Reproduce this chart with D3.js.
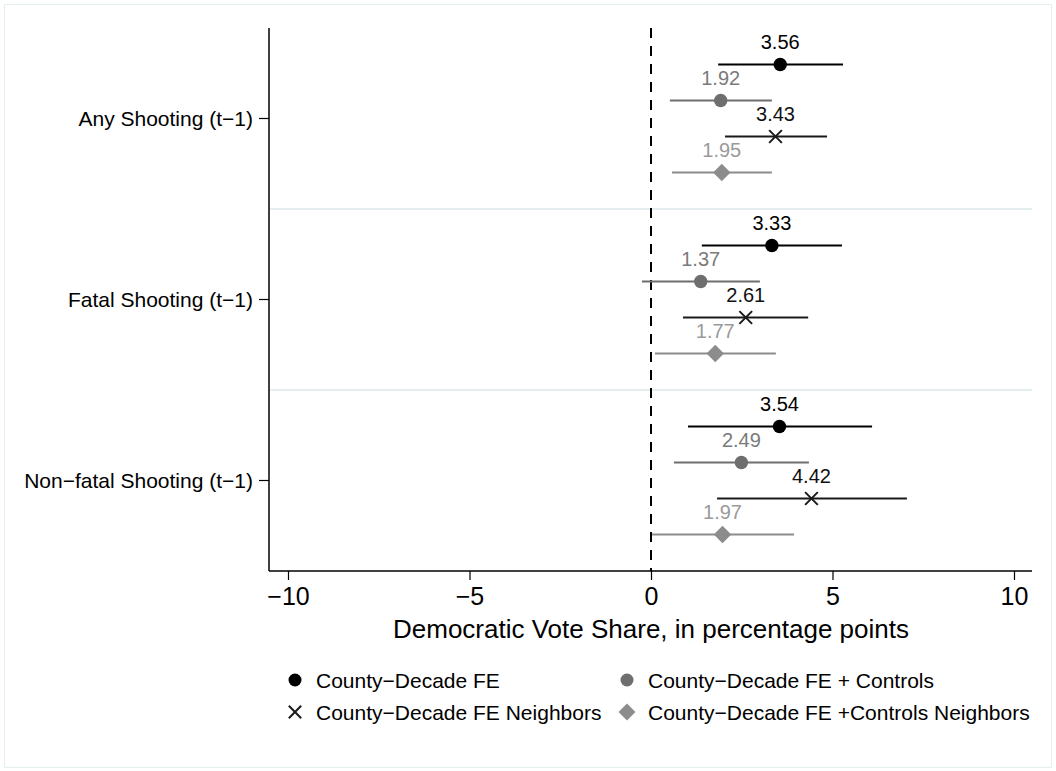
<!DOCTYPE html>
<html><head><meta charset="utf-8">
<script src="https://cdn.jsdelivr.net/npm/d3@7"></script>
<style>body{margin:0;background:#fff;}svg{display:block;font-family:"Liberation Sans",Arial,sans-serif;}</style>
</head><body>
<svg id="c" width="1056" height="771"></svg>
<script>
const groups = ["Any Shooting (t\u22121)", "Fatal Shooting (t\u22121)", "Non\u2212fatal Shooting (t\u22121)"];
const seriesNames = ["County\u2212Decade FE", "County\u2212Decade FE + Controls", "County\u2212Decade FE Neighbors", "County\u2212Decade FE +Controls Neighbors"];
const estFE = [3.56, 3.33, 3.54];
const loFE = [1.85, 1.40, 1.02];
const hiFE = [5.29, 5.26, 6.09];
const estCtrl = [1.92, 1.37, 2.49];
const loCtrl = [0.52, -0.25, 0.63];
const hiCtrl = [3.33, 3.00, 4.35];
const estNb = [3.43, 2.61, 4.42];
const loNb = [2.04, 0.88, 1.82];
const hiNb = [4.85, 4.33, 7.05];
const estCtrlNb = [1.95, 1.77, 1.97];
const loCtrlNb = [0.58, 0.11, 0.03];
const hiCtrlNb = [3.33, 3.44, 3.94];
const xTicks = [-10, -5, 0, 5, 10];

const est = [estFE, estCtrl, estNb, estCtrlNb];
const lo = [loFE, loCtrl, loNb, loCtrlNb];
const hi = [hiFE, hiCtrl, hiNb, hiCtrlNb];
const markers = ["circle", "circle", "x", "diamond"];
const lineColors = ["#000000", "#6e6e6e", "#1a1a1a", "#8c8c8c"];
const markColors = ["#000000", "#6e6e6e", "#1a1a1a", "#8c8c8c"];
const labelColors = ["#000000", "#7a7a7a", "#111111", "#9a9a9a"];

const svg = d3.select("#c");
svg.append("rect").attr("x",4.5).attr("y",4.5).attr("width",1047).attr("height",763)
  .attr("fill","#fff").attr("stroke","#e4eeee").attr("stroke-width",1);

const L = 269, R = 1032, T = 28, B = 571;
const x = d3.scaleLinear().domain([-10, 10]).range([288, 1014]);
const yG = d3.scaleBand().domain(d3.range(groups.length)).range([T, B]);
const yS = d3.scalePoint().domain(d3.range(4)).range([-54, 54]);
const gc = i => yG(i) + yG.bandwidth()/2;

for (let i = 1; i < groups.length; i++) {
  svg.append("line").attr("x1", L).attr("x2", R).attr("y1", yG(i)).attr("y2", yG(i))
    .attr("stroke", "#e4eeee").attr("stroke-width", 2);
}

svg.append("line").attr("x1", x(0)).attr("x2", x(0)).attr("y1", T).attr("y2", B)
  .attr("stroke", "#000").attr("stroke-width", 2).attr("stroke-dasharray", "10,8");

const xAxis = d3.axisBottom(x).tickValues(xTicks).tickSize(9).tickPadding(4)
  .tickFormat(d => d < 0 ? "\u2212" + Math.abs(d) : d);
const gx = svg.append("g").attr("transform", `translate(0,${B})`).call(xAxis);
gx.select(".domain").attr("d", `M${L},0H${R}`).attr("stroke", "#000").attr("stroke-width", 1.5);
gx.selectAll(".tick line").attr("stroke", "#000").attr("stroke-width", 1.2);
gx.selectAll(".tick text").attr("font-size", 25).attr("fill", "#000")
  .attr("font-family", "Liberation Sans, Arial, sans-serif").attr("y", 34).attr("dy", 0);

svg.append("line").attr("x1", L).attr("x2", L).attr("y1", T).attr("y2", B)
  .attr("stroke", "#000").attr("stroke-width", 1.5);
groups.forEach((g, i) => {
  svg.append("line").attr("x1", L - 10).attr("x2", L).attr("y1", gc(i)).attr("y2", gc(i))
    .attr("stroke", "#000").attr("stroke-width", 1.2);
  svg.append("text").attr("x", L - 16).attr("y", gc(i)).attr("dy", "0.36em")
    .attr("text-anchor", "end").attr("font-size", 21).attr("fill", "#000").text(g);
});

svg.append("text").attr("x", x(0)).attr("y", 638).attr("text-anchor", "middle")
  .attr("font-size", 26).attr("fill", "#000").text("Democratic Vote Share, in percentage points");

function drawMarker(sel, type, cx, cy, color, size) {
  if (type === "circle") {
    sel.append("circle").attr("cx", cx).attr("cy", cy).attr("r", size).attr("fill", color);
  } else if (type === "diamond") {
    const s = size * 1.3;
    sel.append("path").attr("d", `M${cx},${cy - s}L${cx + s},${cy}L${cx},${cy + s}L${cx - s},${cy}Z`).attr("fill", color);
  } else {
    const s = size * 0.95;
    sel.append("path").attr("d", `M${cx - s},${cy - s}L${cx + s},${cy + s}M${cx - s},${cy + s}L${cx + s},${cy - s}`)
      .attr("stroke", color).attr("stroke-width", 2).attr("fill", "none");
  }
}

const plot = svg.append("g");
for (let s = 0; s < 4; s++) {
  for (let i = 0; i < groups.length; i++) {
    const cy = gc(i) + yS(s);
    plot.append("line").attr("x1", x(lo[s][i])).attr("x2", x(hi[s][i])).attr("y1", cy).attr("y2", cy)
      .attr("stroke", lineColors[s]).attr("stroke-width", 2);
    drawMarker(plot, markers[s], x(est[s][i]), cy, markColors[s], 6.7);
    plot.append("text").attr("x", x(est[s][i])).attr("y", cy - 16).attr("text-anchor", "middle")
      .attr("font-size", 20).attr("fill", labelColors[s]).text(est[s][i].toFixed(2));
  }
}

const legX = [295, 627], legY = [680, 712];
seriesNames.forEach((n, k) => {
  const col = k % 2, row = Math.floor(k / 2);
  const g = svg.append("g");
  drawMarker(g, markers[k], legX[col], legY[row], markColors[k], 6.5);
  g.append("text").attr("x", legX[col] + 21).attr("y", legY[row]).attr("dy", "0.36em")
    .attr("font-size", 21).attr("fill", "#000").text(n);
});
</script>
</body></html>
